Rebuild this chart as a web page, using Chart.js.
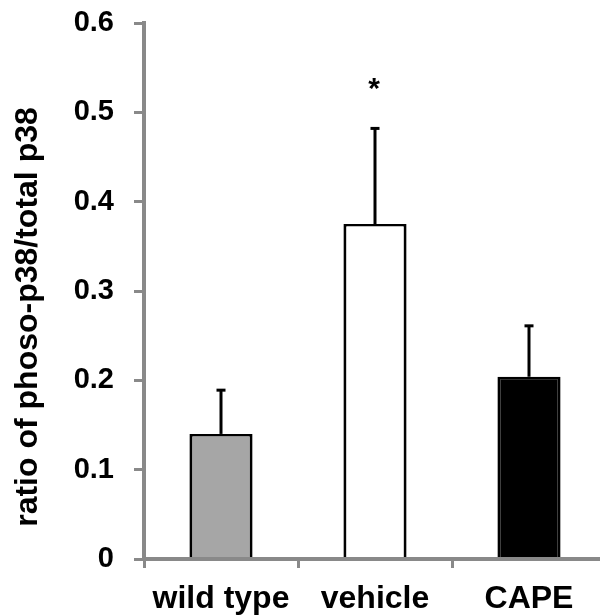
<!DOCTYPE html>
<html>
<head>
<meta charset="utf-8">
<script src="https://cdn.jsdelivr.net/npm/chart.js@4.4.1/dist/chart.umd.min.js"></script>
<style>
  html, body { margin: 0; padding: 0; background: #ffffff; overflow: hidden; }
  #wrap { width: 606px; height: 616px; }
</style>
</head>
<body>
<div id="wrap"><canvas id="chart"></canvas></div>
<script>
// Group names and measured means with their upper error (mean + SD)
const categories = ['wild type', 'vehicle', 'CAPE'];
const ratioMeans = [0.140, 0.375, 0.204];
const ratioUpper = [0.189, 0.482, 0.261];
const barColors = ['#a6a6a6', '#ffffff', '#000000'];
const significance = ['', '*', ''];
const yTicks = [0, 0.1, 0.2, 0.3, 0.4, 0.5, 0.6];
const yTitle = 'ratio of phoso-p38/total p38';

const axisGray = '#898989';
const fontFamily = '"Liberation Sans", Arial, sans-serif';

// One-sided (upward) error bars plus significance marks
const errorBars = {
  id: 'errorBars',
  afterDatasetsDraw(chart) {
    const { ctx } = chart;
    const meta = chart.getDatasetMeta(0);
    const y = chart.scales.y;
    ctx.save();
    ctx.strokeStyle = '#000000';
    ctx.fillStyle = '#000000';
    meta.data.forEach((bar, i) => {
      const x = bar.x;
      const yTop = y.getPixelForValue(ratioUpper[i]);
      const yMean = y.getPixelForValue(ratioMeans[i]);
      ctx.lineWidth = 3;
      ctx.beginPath();
      ctx.moveTo(x, yMean);
      ctx.lineTo(x, yTop);
      ctx.stroke();
      ctx.beginPath();
      ctx.moveTo(x - 4.5, yTop);
      ctx.lineTo(x + 4.5, yTop);
      ctx.stroke();
      if (significance[i]) {
        ctx.font = 'bold 30px ' + fontFamily;
        ctx.textAlign = 'center';
        ctx.textBaseline = 'alphabetic';
        ctx.fillText(significance[i], x - 1, yTop - 30);
      }
    });
    ctx.restore();
  }
};

// Rotated y-axis title
const axisTitle = {
  id: 'axisTitle',
  afterDraw(chart) {
    const { ctx } = chart;
    ctx.save();
    ctx.translate(28, 317);
    ctx.rotate(-Math.PI / 2);
    ctx.font = 'bold 32px ' + fontFamily;
    ctx.fillStyle = '#000000';
    ctx.textAlign = 'center';
    ctx.textBaseline = 'middle';
    ctx.fillText(yTitle, 0, 0);
    ctx.restore();
  }
};

new Chart(document.getElementById('chart'), {
  type: 'bar',
  data: {
    labels: categories,
    datasets: [{
      data: ratioMeans,
      backgroundColor: barColors,
      borderColor: '#000000',
      borderWidth: { top: 2.5, left: 3, right: 3, bottom: 0 },
      borderSkipped: false,
      categoryPercentage: 1,
      barPercentage: 0.41
    }]
  },
  options: {
    responsive: true,
    maintainAspectRatio: false,
    animation: false,
    devicePixelRatio: 1,
    layout: { padding: 0 },
    plugins: { legend: { display: false }, tooltip: { enabled: false } },
    scales: {
      x: {
        grid: {
          display: true, drawOnChartArea: false, drawTicks: true,
          tickLength: 9, tickWidth: 3, tickColor: axisGray, offset: true, z: 1
        },
        border: { display: true, color: axisGray, width: 4, z: 1 },
        ticks: {
          color: '#000000',
          padding: 12,
          font: { family: fontFamily, size: 32, weight: 'bold' },
          maxRotation: 0
        },
        afterFit(scale) { scale.height = 57; }
      },
      y: {
        min: 0,
        max: 0.6,
        afterBuildTicks(scale) { scale.ticks = yTicks.map(v => ({ value: v })); },
        grid: {
          display: true, drawOnChartArea: false, drawTicks: true,
          tickLength: 10, tickWidth: 3, tickColor: axisGray, z: 1
        },
        border: { display: true, color: axisGray, width: 4, z: 1 },
        ticks: {
          color: '#000000',
          padding: 20,
          font: { family: fontFamily, size: 29, weight: 'bold' },
          callback: (v) => (v === 0 ? '0' : v.toFixed(1))
        },
        afterFit(scale) {
          scale.width = 144;
          scale.paddingTop = 23;
          scale.paddingBottom = 0;
        }
      }
    }
  },
  plugins: [errorBars, axisTitle]
});
</script>
</body>
</html>
